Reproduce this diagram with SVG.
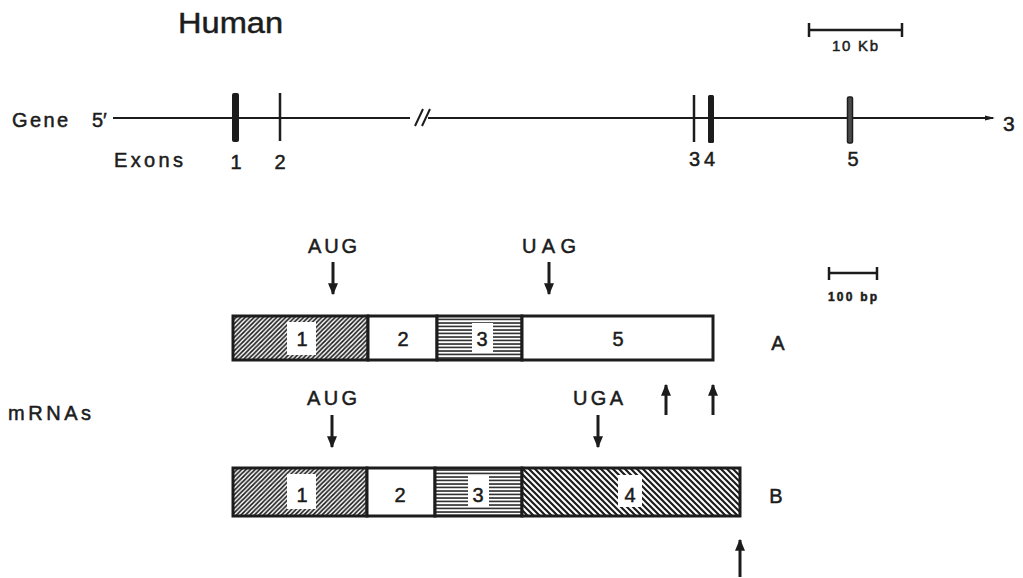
<svg xmlns="http://www.w3.org/2000/svg" width="1023" height="578" viewBox="0 0 1023 578">
<style>
text{font-family:"Liberation Sans",Arial,sans-serif;fill:#1c1c1c;stroke:#1c1c1c;stroke-width:0.5}
.lbl{font-size:20px}
.dig{font-size:20px;text-anchor:middle}
.box{stroke:#1c1c1c;stroke-width:3}
.ln{stroke:#1c1c1c;fill:none}
.arr{stroke:#1c1c1c;stroke-width:3;fill:none}
</style>
<defs>
<pattern id="hUp" patternUnits="userSpaceOnUse" width="4.5" height="4.5">
<rect width="4.5" height="4.5" fill="#fff"/>
<path d="M-1,1 L1,-1 M0,4.5 L4.5,0 M3.5,5.5 L5.5,3.5" stroke="#1c1c1c" stroke-width="1.7"/>
</pattern>
<pattern id="hHor" patternUnits="userSpaceOnUse" width="4" height="3.5">
<rect width="4" height="3.5" fill="#fff"/>
<line x1="0" y1="1" x2="4" y2="1" stroke="#1c1c1c" stroke-width="1.5"/>
</pattern>
<pattern id="hDn" patternUnits="userSpaceOnUse" width="6" height="6">
<rect width="6" height="6" fill="#fff"/>
<path d="M-1,5 L1,7 M0,0 L6,6 M5,-1 L7,1" stroke="#1c1c1c" stroke-width="2.2"/>
</pattern>
<marker id="head" viewBox="0 0 10 10" refX="9" refY="5" markerWidth="12" markerHeight="10" markerUnits="userSpaceOnUse" orient="auto" preserveAspectRatio="none">
<path d="M0,0 L10,5 L0,10 Z" fill="#1c1c1c"/>
</marker>
</defs>

<g id="title"><text x="178" y="33" style="font-size:30px" textLength="105" lengthAdjust="spacingAndGlyphs">Human</text></g>

<g id="scale10kb">
<line class="ln" x1="808" y1="30" x2="903" y2="30" stroke-width="2.5"/>
<line class="ln" x1="809" y1="23" x2="809" y2="37" stroke-width="2.5"/>
<line class="ln" x1="902" y1="23" x2="902" y2="37" stroke-width="2.5"/>
<text x="832" y="51" style="font-size:15px" textLength="46">10 Kb</text>
</g>

<g id="gene">
<text class="lbl" x="12" y="127" textLength="56" lengthAdjust="spacing">Gene</text>
<text class="lbl" x="92" y="127">5′</text>
<line class="ln" x1="113" y1="118" x2="410" y2="118" stroke-width="2"/>
<path class="ln" d="M415,126 L423,109 M422,126 L430,109" stroke-width="2"/>
<line class="ln" x1="428" y1="118" x2="993" y2="118" stroke-width="2"/>
<path d="M985,115.5 L995,118 L985,120.5 Z" fill="#1c1c1c"/>
<text class="lbl" x="1003" y="131" style="font-size:21px">3</text>
</g>

<g id="exon1"><rect x="232" y="93" width="7" height="49" rx="2" fill="#1c1c1c"/></g>
<g id="exon2"><line class="ln" x1="280" y1="93" x2="280" y2="141" stroke-width="2.5"/></g>
<g id="exon3"><line class="ln" x1="694" y1="95" x2="694" y2="142" stroke-width="2.5"/></g>
<g id="exon4"><rect x="708" y="95" width="6" height="48" rx="1.5" fill="#1c1c1c"/></g>
<g id="exon5"><rect x="847.5" y="97" width="5" height="46" rx="1.5" fill="#4a4a4a" stroke="#1c1c1c" stroke-width="1.5"/></g>

<g id="exonLabels">
<text class="lbl" x="114" y="167" textLength="69" lengthAdjust="spacing">Exons</text>
<text class="dig" x="236" y="169">1</text>
<text class="dig" x="280" y="169">2</text>
<text class="lbl" x="689" y="166" textLength="26" lengthAdjust="spacing">34</text>
<text class="dig" x="853" y="166">5</text>
</g>

<g id="scale100bp">
<line class="ln" x1="828" y1="273" x2="878" y2="273" stroke-width="2.5"/>
<line class="ln" x1="829" y1="267" x2="829" y2="280" stroke-width="2.5"/>
<line class="ln" x1="877" y1="267" x2="877" y2="280" stroke-width="2.5"/>
<text x="828" y="301" style="font-size:12px;font-weight:bold" textLength="49">100 bp</text>
</g>

<g id="mrnaLabel"><text class="lbl" x="8" y="420" textLength="83" lengthAdjust="spacing">mRNAs</text></g>

<g id="mrnaA">
<rect x="233" y="316" width="135" height="44" fill="url(#hUp)" class="box"/>
<rect x="368" y="316" width="69" height="44" fill="#fff" class="box"/>
<rect x="437" y="316" width="85" height="44" fill="url(#hHor)" class="box"/>
<rect x="522" y="316" width="191" height="44" fill="#fff" class="box"/>
<rect x="287" y="322" width="29" height="33" fill="#fff"/>
<rect x="472" y="323" width="21" height="30" fill="#fff"/>
<text class="dig" x="302" y="346">1</text>
<text class="dig" x="403" y="346">2</text>
<text class="dig" x="482" y="346">3</text>
<text class="dig" x="618" y="346">5</text>
<text class="lbl" x="778" y="350" text-anchor="middle">A</text>
</g>

<g id="mrnaB">
<rect x="233" y="468" width="134" height="48" fill="url(#hUp)" class="box"/>
<rect x="367" y="468" width="68" height="48" fill="#fff" class="box"/>
<rect x="435" y="468" width="87" height="48" fill="url(#hHor)" class="box"/>
<rect x="522" y="468" width="218" height="48" fill="url(#hDn)" class="box"/>
<rect x="287" y="474" width="29" height="35" fill="#fff"/>
<rect x="468" y="475" width="21" height="32" fill="#fff"/>
<rect x="618" y="475" width="24" height="32" fill="#fff"/>
<text class="dig" x="302" y="502">1</text>
<text class="dig" x="400" y="502">2</text>
<text class="dig" x="478" y="502">3</text>
<text class="dig" x="630" y="502">4</text>
<text class="lbl" x="776" y="503" text-anchor="middle">B</text>
</g>

<g id="codonLabels">
<text class="lbl" x="308" y="253" textLength="49" lengthAdjust="spacing">AUG</text>
<text class="lbl" x="522" y="253" textLength="54" lengthAdjust="spacing">UAG</text>
<text class="lbl" x="307" y="405" textLength="50" lengthAdjust="spacing">AUG</text>
<text class="lbl" x="573" y="405" textLength="50" lengthAdjust="spacing">UGA</text>
</g>

<g id="connectors">
<line class="arr" x1="333" y1="262" x2="333" y2="294" marker-end="url(#head)"/>
<line class="arr" x1="549" y1="262" x2="549" y2="294" marker-end="url(#head)"/>
<line class="arr" x1="332" y1="415" x2="332" y2="447" marker-end="url(#head)"/>
<line class="arr" x1="598" y1="415" x2="598" y2="447" marker-end="url(#head)"/>
<line class="arr" x1="666" y1="415" x2="666" y2="385" marker-end="url(#head)"/>
<line class="arr" x1="713" y1="415" x2="713" y2="385" marker-end="url(#head)"/>
<line class="arr" x1="740" y1="577" x2="740" y2="540" marker-end="url(#head)"/>
</g>
</svg>
